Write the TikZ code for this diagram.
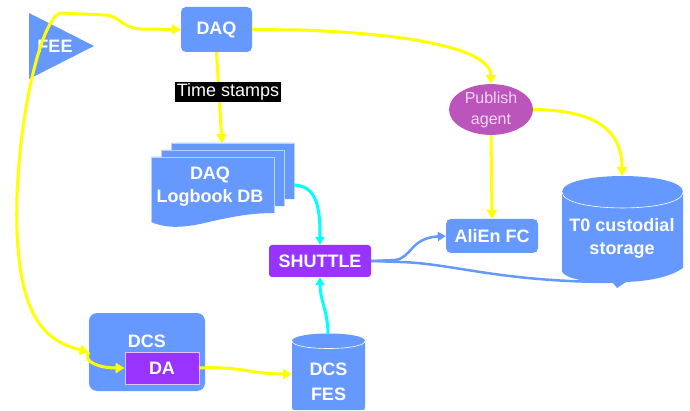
\documentclass[tikz,border=0pt]{standalone}
\usepackage{fontspec}
\setmainfont{Liberation Sans}
\usetikzlibrary{arrows.meta,shapes.geometric}
\definecolor{bluebox}{RGB}{102,153,255}
\definecolor{purp}{RGB}{153,51,255}
\definecolor{pub}{RGB}{187,85,187}
\definecolor{yel}{RGB}{255,255,0}
\definecolor{cyn}{RGB}{0,255,255}
\definecolor{pubtext}{RGB}{245,215,245}
\begin{document}
\begin{tikzpicture}[x=1pt,y=-1pt,
  lbl/.style={text=white,font=\fontsize{18}{23}\selectfont\bfseries,align=center,inner sep=0pt},
  box/.style={fill=bluebox,rounded corners=5pt,draw=none,inner sep=0pt,text=white,font=\fontsize{18}{22}\selectfont\bfseries},
  shape edge/.style={draw=white!55!bluebox,line width=0.6pt},
  yarrow/.style={draw=yel,line width=3pt,-{Triangle[length=9pt,width=10pt]}},
  ybiarrow/.style={draw=yel,line width=3pt,{Triangle[length=9pt,width=10pt]}-{Triangle[length=9pt,width=10pt]}},
  carrow/.style={draw=cyn,line width=3pt,-{Triangle[length=8pt,width=9pt]}},
  barrow/.style={draw=bluebox,line width=2.5pt,-{Triangle[length=8pt,width=9pt]}},
  bline/.style={draw=bluebox,line width=2.5pt}]
\useasboundingbox[fill=white] (0,0) rectangle (690,411);

% FEE triangle
\fill[bluebox] (29,13) -- (94,46) -- (29,79) -- cycle;
\node[lbl] (fee) at (55,46) {FEE};

% DAQ logbook stacked documents
\foreach \dx/\dy in {20/-14,10/-7,0/0}{
  \begin{scope}[shift={(\dx,\dy)}]
    \fill[bluebox] (151,157) -- (274,157) -- (274,213)
      .. controls (250,213) and (230,217) .. (200,224)
      .. controls (180,228) and (165,228) .. (151,222) -- cycle;
    \draw[shape edge] (151,222) -- (151,157) -- (274,157) -- (274,213);
  \end{scope}
}
\node[lbl] (logbook) at (210,187) {DAQ\\Logbook DB};
\coordinate (lbtop) at (222,143);
\coordinate (lbright) at (294,185);

% T0 custodial storage cylinder
\fill[bluebox] (562,192) .. controls (562,170.7) and (683,170.7) .. (683,192)
  -- (683,268) .. controls (670,277) and (650,281) .. (626,282)
  -- (617,288) -- (613,283)
  .. controls (590,282) and (568,280) .. (562,272) -- cycle;
\draw[white,line width=0.6pt] (562,192) .. controls (562,213.3) and (683,213.3) .. (683,192);
\node[lbl] (t0) at (622,238) {T0 custodial\\storage};
\coordinate (t0top) at (622,176);
\coordinate (t0bot) at (613,282);

% DCS FES cylinder
\fill[bluebox] (292,341) .. controls (292,331) and (365,331) .. (365,341)
  -- (365,405) .. controls (365,410) .. (360,410) -- (297,410)
  .. controls (292,410) .. (292,405) -- cycle;
\draw[white,line width=0.6pt] (292,341) .. controls (292,351) and (365,351) .. (365,341);
\node[lbl,font=\fontsize{18}{25}\selectfont\bfseries] (fes) at (328.5,382) {DCS\\FES};
\coordinate (festop) at (328,334);
\coordinate (fesleft) at (292,374);

% boxes
\node[box,minimum width=71,minimum height=45] (daq) at (216.5,29.5) {DAQ};
\node[ellipse,fill=pub,minimum width=84,minimum height=45,inner sep=0pt,text=pubtext,
      font=\fontsize{16}{21}\selectfont,align=center] (pub) at (491,109.5) {Publish\\agent};
\node[box,minimum width=92,minimum height=34] (alien) at (492,236) {AliEn FC};
\node[box,fill=purp,rounded corners=3pt,minimum width=102,minimum height=32] (shuttle) at (320,261) {SHUTTLE};
\node[box,rounded corners=8pt,minimum width=116,minimum height=78] (dcs) at (147,352) {};
\node[lbl] (dcst) at (147,341) {DCS};
\node[box,fill=purp,rounded corners=0pt,draw=white!70!purp,line width=0.8pt,
      minimum width=74,minimum height=32] (da) at (162,368) {DA};

% connectors
\draw[ybiarrow] (dcs.west) .. controls (40,340) and (20,310) .. (17,230)
  .. controls (14,140) and (38,22) .. (60,13) -- (105,15)
  .. controls (120,16) and (122,28) .. (140,29) -- (daq.west);
\draw[yarrow] (dcs.west) .. controls (82,362) and (100,368) .. (da.west);
\draw[yarrow] (daq.south) -- (lbtop);
\draw[yarrow] (daq.east) -- (300,30) .. controls (440,35) and (491,55) .. (pub.north);
\draw[yarrow] (pub.south) -- (alien.north);
\draw[yarrow] (pub.east) .. controls (595,110) and (622,130) .. (t0top);
\draw[carrow] (lbright) .. controls (318,186) and (320,210) .. (shuttle.north);
\draw[carrow] (festop) .. controls (328,312) and (320,300) .. (shuttle.south);
\draw[yarrow] (da.east) .. controls (240,366) and (250,374) .. (fesleft);
\draw[barrow] (shuttle.east) -- (395,260) .. controls (412,258) and (410,238) .. (alien.west);
\draw[bline] (shuttle.east) -- (400,262) .. controls (450,263) and (500,282) .. (t0bot);

% label on the DAQ -> logbook connector
\node[fill=black,text=white,font=\fontsize{18}{20}\selectfont,inner sep=1.5pt] (ts) at (228,92) {Time stamps};
\end{tikzpicture}
\end{document}
